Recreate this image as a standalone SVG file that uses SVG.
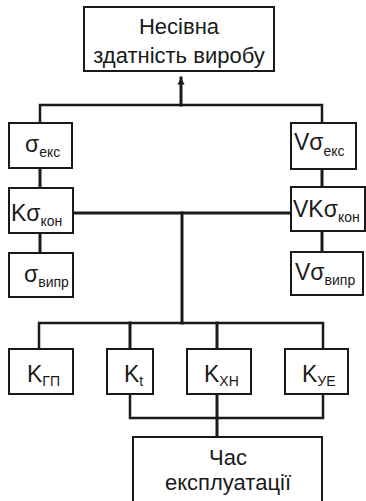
<svg xmlns="http://www.w3.org/2000/svg" width="366" height="501" viewBox="0 0 366 501">
  <defs>
    <marker id="arrow" viewBox="0 0 8 10" refX="8" refY="5" markerWidth="9" markerHeight="8" markerUnits="userSpaceOnUse" orient="auto">
      <path d="M0,0.5 L8,5 L0,9.5 Z" fill="#1a1a1a"/>
    </marker>
    <style>
      .box { fill: #ffffff; stroke: #1a1a1a; stroke-width: 2; }
      .ln { fill: none; stroke: #1a1a1a; stroke-width: 2.5; stroke-linecap: square; }
      .thick { stroke-width: 3; }
      .lbl { font-family: "Liberation Sans", Arial, sans-serif; font-size: 22px; fill: #1a1a1a; text-anchor: middle; }
      .sym { font-family: "Liberation Sans", Arial, sans-serif; font-size: 23px; fill: #1a1a1a; }
      .sub { font-size: 14px; }
    </style>
  </defs>

  <!-- connectors -->
  <g id="connectors">
    <path class="ln thick" d="M181,105 V78" marker-end="url(#arrow)"/>
    <path class="ln" d="M40,123 V105 H322 V123"/>
    <path class="ln thick" d="M40,168 V188"/>
    <path class="ln thick" d="M322,169 V187"/>
    <path class="ln thick" d="M40,233 V253"/>
    <path class="ln thick" d="M322,231 V252"/>
    <path class="ln thick" d="M73,213 H291"/>
    <path class="ln thick" d="M182,213 V323"/>
    <path class="ln" d="M39,349 V323 H323 V349"/>
    <path class="ln thick" d="M130,323 V349"/>
    <path class="ln thick" d="M217,323 V349"/>
    <path class="ln" d="M130,394 V418 H323 V394"/>
    <path class="ln thick" d="M217,394 V437"/>
  </g>

  <g id="node-capacity">
    <rect class="box" x="84" y="7" width="190" height="64"/>
    <text class="lbl" x="179" y="34">Несівна</text>
    <text class="lbl" x="179" y="63">здатність виробу</text>
  </g>

  <g id="node-sigma-eks">
    <rect class="box" x="9" y="123" width="63" height="45"/>
    <text class="sym" x="25" y="152">σ<tspan class="sub" dy="5">екс</tspan></text>
  </g>
  <g id="node-k-sigma-kon">
    <rect class="box" x="9" y="188" width="64" height="45"/>
    <text class="sym" x="11" y="221">Kσ<tspan class="sub" dy="5">кон</tspan></text>
  </g>
  <g id="node-sigma-vypr">
    <rect class="box" x="9" y="253" width="64" height="44"/>
    <text class="sym" x="24" y="282">σ<tspan class="sub" dy="5">випр</tspan></text>
  </g>

  <g id="node-v-sigma-eks">
    <rect class="box" x="291" y="123" width="65" height="46"/>
    <text class="sym" x="294" y="150">Vσ<tspan class="sub" dy="6">екс</tspan></text>
  </g>
  <g id="node-vk-sigma-kon">
    <rect class="box" x="291" y="187" width="74" height="44"/>
    <text class="sym" x="293" y="217">VKσ<tspan class="sub" dy="5">кон</tspan></text>
  </g>
  <g id="node-v-sigma-vypr">
    <rect class="box" x="291" y="252" width="72" height="43"/>
    <text class="sym" x="295" y="280">Vσ<tspan class="sub" dy="5">випр</tspan></text>
  </g>

  <g id="node-k-gp">
    <rect class="box" x="9" y="349" width="64" height="45"/>
    <text class="sym" x="27" y="382">K<tspan class="sub" dy="4">ГП</tspan></text>
  </g>
  <g id="node-k-t">
    <rect class="box" x="107" y="349" width="46" height="45"/>
    <text class="sym" x="124" y="382">K<tspan class="sub" dy="4">t</tspan></text>
  </g>
  <g id="node-k-khn">
    <rect class="box" x="187" y="349" width="64" height="45"/>
    <text class="sym" x="204" y="382">K<tspan class="sub" dy="4">ХН</tspan></text>
  </g>
  <g id="node-k-ue">
    <rect class="box" x="285" y="349" width="63" height="45"/>
    <text class="sym" x="302" y="382">K<tspan class="sub" dy="4">УЕ</tspan></text>
  </g>

  <g id="node-service-time">
    <rect class="box" x="133" y="437" width="189" height="70"/>
    <text class="lbl" x="228" y="465">Час</text>
    <text class="lbl" x="228" y="490">експлуатації</text>
  </g>
</svg>
